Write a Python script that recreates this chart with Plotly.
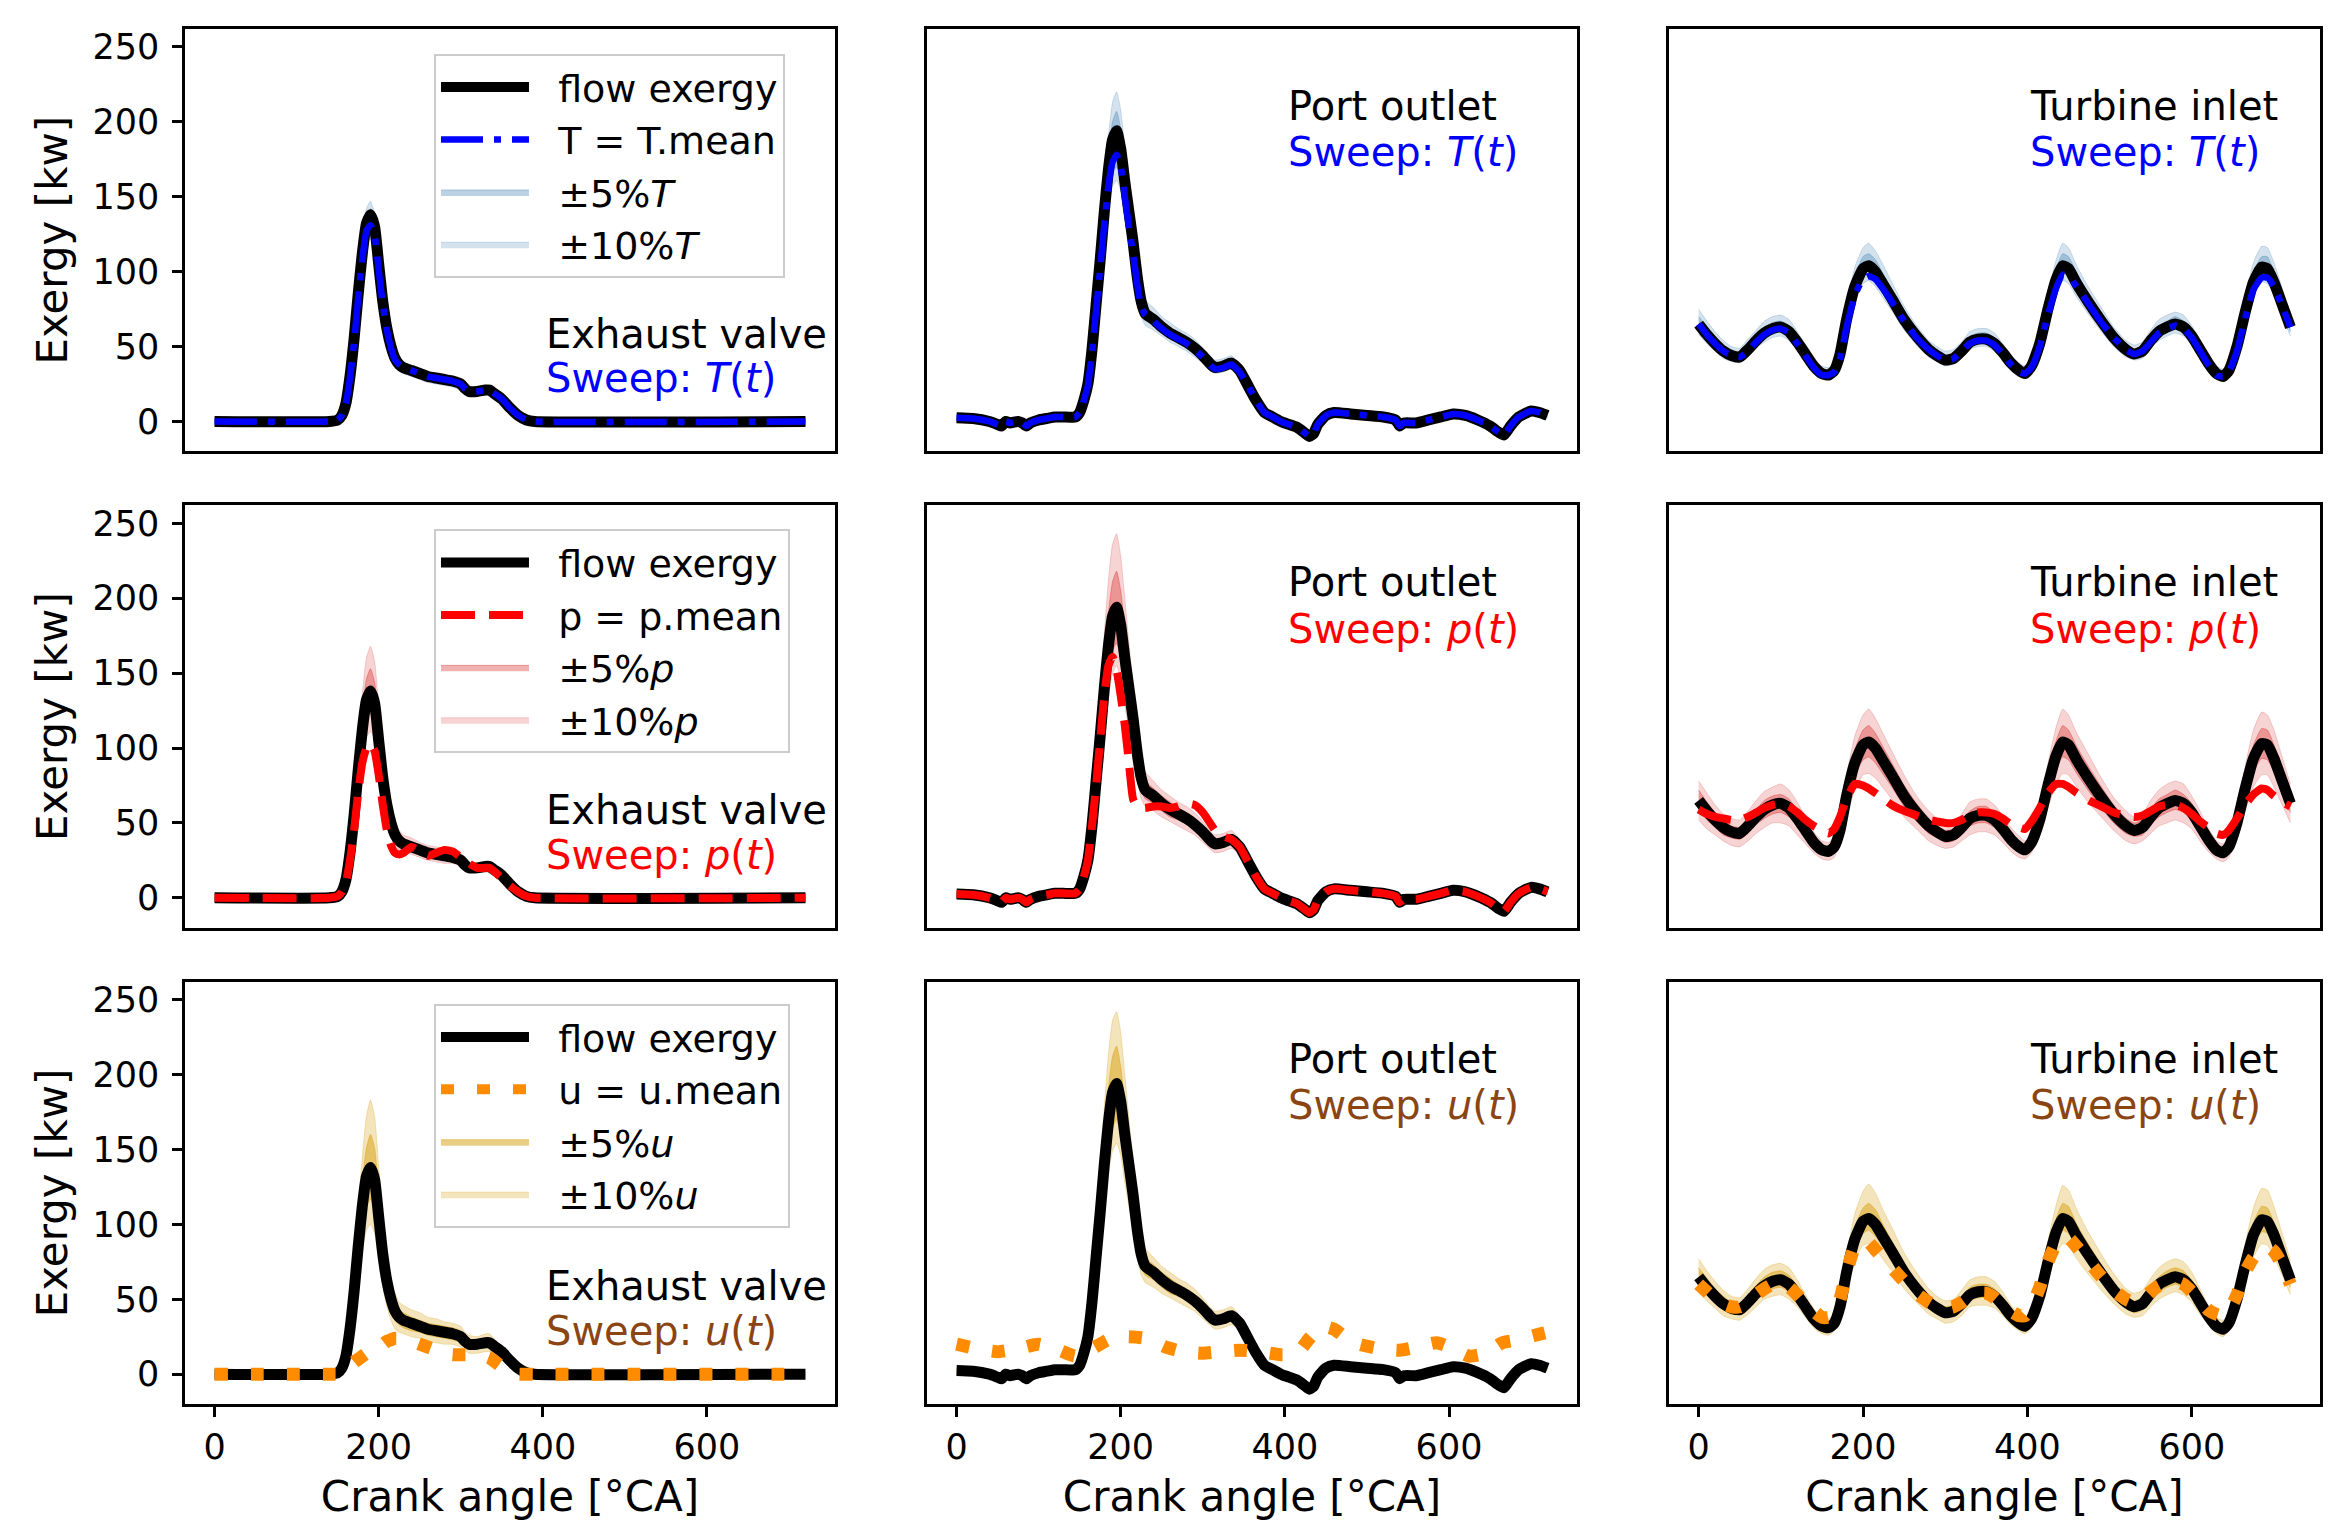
import plotly.graph_objects as go

FONT = "DejaVu Sans"

# ---------------- data ----------------
crank_ticks = [0, 200, 400, 600]
exergy_ticks = [0, 50, 100, 150, 200, 250]
locations = ["Exhaust valve", "Port outlet", "Turbine inlet"]
variables = ["T", "p", "u"]

# Exhaust valve
x_ev = [0, 140, 150, 155, 160, 165, 170, 175, 180, 185, 190, 195, 200, 205, 210, 215, 220, 225, 230, 240,
        250, 260, 270, 280, 290, 300, 305, 310, 320, 330, 335, 340, 350, 360, 370, 380, 390, 720]
ev_flow = [0, 0, 1, 4, 12, 30, 55, 85, 112, 132, 138, 130, 105, 80, 62, 50, 42, 38, 36, 34,
           32, 30, 29, 28, 27, 25, 22, 20, 20, 21, 21, 19, 15, 9, 4, 1, 0, 0]
ev_T = [0, 0, 1, 4, 12, 29, 53, 82, 108, 127, 131, 124, 101, 78, 61, 49, 41, 38, 36, 34,
        32, 30, 29, 28, 27, 25, 22, 20, 20, 21, 21, 19, 15, 9, 4, 1, 0, 0]
ev_T_hi10 = [0, 0, 1, 5, 14, 33, 60, 92, 121, 142, 147, 139, 112, 86, 66, 53, 45, 41, 39, 37,
             35, 33, 32, 31, 30, 28, 25, 23, 22, 23, 23, 21, 17, 10, 5, 1, 0, 0]
ev_T_hi5 = [0, 0, 1, 4, 13, 31, 57, 88, 116, 137, 142, 134, 108, 83, 64, 51, 43, 39, 37, 35,
            33, 31, 30, 29, 28, 26, 23, 21, 21, 22, 22, 20, 16, 9, 4, 1, 0, 0]
ev_T_lo5 = [0, 0, 1, 4, 11, 28, 52, 80, 106, 124, 128, 122, 98, 76, 59, 48, 40, 36, 34, 32,
            30, 28, 27, 26, 25, 23, 20, 19, 19, 20, 20, 18, 14, 8, 4, 1, 0, 0]
ev_T_lo10 = [0, 0, 1, 3, 10, 26, 49, 76, 101, 118, 122, 115, 93, 72, 56, 46, 38, 34, 32, 30,
             28, 26, 25, 24, 23, 21, 19, 17, 17, 18, 18, 16, 13, 7, 3, 1, 0, 0]
ev_p = [0, 0, 1, 4, 10, 25, 45, 70, 90, 100, 103, 98, 82, 62, 45, 35, 30, 29, 30, 34,
        31, 28, 30, 32, 31, 27, 25, 23, 20, 20, 20, 18, 13, 8, 4, 1, 0, 0]
ev_p_hi10 = [0, 0, 1, 5, 15, 38, 68, 104, 136, 160, 168, 158, 128, 97, 74, 60, 50, 45, 42, 40,
             37, 35, 34, 33, 32, 30, 26, 24, 23, 24, 24, 22, 17, 10, 5, 1, 0, 0]
ev_p_hi5 = [0, 0, 1, 5, 13, 34, 61, 94, 123, 146, 153, 144, 116, 88, 68, 55, 46, 41, 39, 37,
            35, 33, 31, 30, 29, 27, 24, 22, 22, 22, 22, 20, 16, 10, 4, 1, 0, 0]
ev_p_lo5 = [0, 0, 1, 4, 11, 27, 50, 77, 102, 119, 123, 117, 94, 72, 56, 45, 38, 35, 33, 31,
            29, 27, 27, 26, 25, 23, 20, 18, 18, 19, 19, 17, 14, 8, 4, 1, 0, 0]
ev_p_lo10 = [0, 0, 1, 3, 10, 24, 45, 70, 92, 107, 111, 106, 86, 66, 51, 41, 35, 32, 31, 29,
             27, 25, 24, 23, 23, 21, 18, 17, 17, 17, 17, 15, 12, 7, 3, 1, 0, 0]
ev_u = [0, 0, 0, 1, 3, 5, 8, 10, 12, 14, 16, 17, 19, 20, 22, 23, 24, 24, 24, 22,
        20, 18, 16, 14, 13, 13, 13, 13, 13, 12, 11, 9, 5, 2, 0, 0, 0, 0]
ev_u_hi10 = [0, 0, 1, 5, 16, 40, 72, 110, 145, 172, 183, 172, 139, 105, 80, 64, 54, 48, 46, 43,
             41, 38, 37, 35, 34, 32, 28, 26, 25, 27, 27, 24, 19, 12, 5, 1, 0, 0]
ev_u_hi5 = [0, 0, 1, 5, 14, 35, 63, 97, 128, 151, 160, 151, 122, 93, 71, 57, 48, 43, 41, 38,
            36, 34, 33, 32, 31, 29, 25, 23, 23, 24, 24, 21, 17, 10, 5, 1, 0, 0]
ev_u_lo5 = [0, 0, 1, 3, 10, 25, 47, 72, 95, 112, 117, 111, 89, 68, 53, 43, 36, 33, 31, 29,
            28, 26, 25, 24, 23, 21, 19, 17, 17, 18, 18, 16, 13, 8, 3, 1, 0, 0]
ev_u_lo10 = [0, 0, 1, 3, 9, 22, 40, 62, 82, 96, 100, 94, 76, 58, 45, 36, 30, 28, 27, 25,
             24, 22, 21, 20, 20, 18, 16, 14, 14, 15, 15, 14, 11, 6, 3, 1, 0, 0]

# Port outlet
x_po = [0, 20, 40, 50, 55, 60, 65, 75, 80, 85,
        90, 100, 110, 120, 130, 145, 150, 155, 160, 165,
        170, 175, 180, 185, 190, 195, 200, 205, 210, 215,
        220, 225, 230, 240, 250, 260, 270, 280, 290, 300,
        310, 315, 325, 335, 345, 355, 365, 375, 385, 395,
        405, 415, 425, 430, 435, 440, 450, 460, 480, 500,
        520, 535, 540, 545, 560, 575, 590, 605, 620, 635,
        650, 660, 667, 675, 685, 700, 710, 720]
po_flow = [2.5, 2, 0, -2, -3, 0, -1, 0, -1, -3,
           -1, 1, 2, 3, 3, 3, 6, 14, 25, 48,
           78, 108, 140, 168, 188, 194, 182, 160, 140, 120,
           97, 80, 72, 68, 63, 59, 56, 53, 49, 44,
           38, 36, 37, 39, 34, 24, 14, 6, 3, 0,
           -2, -4, -8, -10, -8, -2, 4, 6, 5, 4,
           3, 1, -3, -1, -1, 1, 3, 5, 4, 1,
           -3, -7, -9, -3, 3, 7, 6, 4]
po_T = [2.5, 2, 0, -2, -3, 0, -1, 0, -1, -3,
        -1, 1, 2, 3, 3, 3, 6, 14, 24, 46,
        74, 102, 132, 157, 173, 178, 170, 150, 130, 112,
        92, 77, 71, 67, 62, 58, 55, 52, 48, 43,
        37, 35, 36, 38, 33, 24, 14, 6, 3, 0,
        -2, -4, -8, -10, -8, -2, 4, 6, 5, 4,
        3, 1, -3, -1, -1, 1, 3, 5, 4, 1,
        -3, -7, -9, -3, 3, 7, 6, 4]
po_T_hi10 = [4.5, 4, 2, 0, -1, 2, 1, 2, 1, -1,
             1, 3, 4, 5, 5, 5, 7, 16, 28, 53,
             86, 120, 156, 190, 213, 220, 208, 183, 160, 137,
             111, 91, 81, 76, 70, 66, 62, 59, 55, 49,
             43, 41, 42, 44, 38, 27, 16, 7, 4, 1,
             0, -2, -6, -8, -6, 0, 6, 8, 7, 6,
             5, 3, -1, 1, 1, 3, 5, 7, 6, 3,
             -1, -5, -7, -1, 5, 9, 8, 6]
po_T_hi5 = [3.5, 3, 1, -1, -2, 1, 0, 1, 0, -2,
            0, 2, 3, 4, 4, 4, 6, 15, 26, 50,
            82, 114, 148, 179, 200, 207, 195, 171, 150, 128,
            104, 85, 76, 72, 66, 62, 59, 56, 52, 46,
            40, 38, 39, 41, 36, 25, 15, 6, 3, 0,
            -1, -3, -7, -9, -7, -1, 5, 7, 6, 5,
            4, 2, -2, 0, 0, 2, 4, 6, 5, 2,
            -2, -6, -8, -2, 4, 8, 7, 5]
po_T_lo5 = [1.5, 1, -1, -3, -4, -1, -2, -1, -2, -4,
            -2, 0, 1, 2, 2, 2, 5, 13, 23, 44,
            71, 98, 126, 150, 165, 170, 162, 143, 124, 107,
            88, 74, 68, 64, 60, 56, 53, 50, 46, 41,
            36, 34, 35, 37, 32, 23, 13, 5, 2, -1,
            -3, -5, -9, -11, -9, -3, 3, 5, 4, 3,
            2, 0, -4, -2, -2, 0, 2, 4, 3, 0,
            -4, -8, -10, -4, 2, 6, 5, 3]
po_T_lo10 = [0.5, 0, -2, -4, -5, -2, -3, -2, -3, -5,
             -3, -1, 0, 1, 1, 1, 4, 12, 21, 41,
             67, 93, 119, 142, 157, 161, 154, 136, 118, 101,
             83, 70, 64, 61, 57, 53, 50, 47, 43, 39,
             34, 32, 33, 35, 30, 22, 12, 5, 2, -1,
             -4, -6, -10, -12, -10, -4, 2, 4, 3, 2,
             1, -1, -5, -3, -3, -1, 1, 3, 2, -1,
             -5, -9, -11, -5, 1, 5, 4, 2]
po_p = [2.5, 2, 0, -2, -3, 0, -1, 0, -1, -3,
        -1, 1, 2, 3, 3, 3, 6, 14, 25, 48,
        75, 105, 135, 155, 161, 152, 135, 115, 90, 66,
        61, 60, 60, 61, 61, 60, 61, 63, 62, 57,
        49, 45, 41, 39, 34, 24, 14, 6, 3, 0,
        -2, -4, -8, -10, -8, -2, 4, 6, 5, 4,
        3, 1, -3, -1, -1, 1, 3, 5, 4, 1,
        -3, -7, -9, -3, 3, 7, 6, 4]
po_p_hi10 = [4.5, 4, 2, 0, -1, 2, 1, 2, 1, -1,
             1, 3, 4, 5, 5, 5, 8, 18, 32, 60,
             97, 136, 176, 212, 236, 243, 228, 200, 170, 142,
             113, 95, 84, 78, 72, 68, 64, 61, 57, 51,
             44, 42, 43, 45, 39, 28, 17, 8, 4, 1,
             0, -2, -6, -8, -6, 0, 6, 8, 7, 6,
             5, 3, -1, 1, 1, 3, 5, 7, 6, 3,
             -1, -5, -7, -1, 5, 9, 8, 6]
po_p_hi5 = [3.5, 3, 1, -1, -2, 1, 0, 1, 0, -2,
            0, 2, 3, 4, 4, 4, 7, 16, 28, 54,
            88, 122, 158, 190, 211, 218, 205, 180, 155, 131,
            105, 88, 78, 73, 68, 64, 60, 57, 53, 48,
            41, 39, 40, 42, 37, 26, 15, 7, 3, 0,
            -1, -3, -7, -9, -7, -1, 5, 7, 6, 5,
            4, 2, -2, 0, 0, 2, 4, 6, 5, 2,
            -2, -6, -8, -2, 4, 8, 7, 5]
po_p_lo5 = [1.5, 1, -1, -3, -4, -1, -2, -1, -2, -4,
            -2, 0, 1, 2, 2, 2, 5, 12, 22, 42,
            68, 94, 122, 146, 165, 170, 159, 140, 125, 109,
            89, 72, 66, 63, 58, 54, 52, 49, 45, 40,
            35, 33, 34, 36, 31, 22, 13, 5, 2, -1,
            -3, -5, -9, -11, -9, -3, 3, 5, 4, 3,
            2, 0, -4, -2, -2, 0, 2, 4, 3, 0,
            -4, -8, -10, -4, 2, 6, 5, 3]
po_p_lo10 = [0.5, 0, -2, -4, -5, -2, -3, -2, -3, -5,
             -3, -1, 0, 1, 1, 1, 4, 11, 20, 38,
             62, 86, 111, 133, 150, 155, 146, 128, 113, 98,
             81, 66, 61, 58, 54, 51, 48, 45, 42, 37,
             32, 30, 31, 33, 29, 20, 12, 4, 2, -1,
             -4, -6, -10, -12, -10, -4, 2, 4, 3, 2,
             1, -1, -5, -3, -3, -1, 1, 3, 2, -1,
             -5, -9, -11, -5, 1, 5, 4, 2]
x_po_u = [0, 25, 50, 75, 100, 125, 145, 165, 185, 205, 230, 255, 275, 300, 320, 345, 370, 395,
          415, 430, 445, 460, 475, 490, 515, 540, 560, 585, 605, 625, 645, 665, 685, 705, 720]
po_u = [20, 17, 15, 17, 20, 16, 12, 17, 23, 25, 24, 18, 15, 14, 15, 16, 15, 13,
        14, 24, 32, 30, 24, 20, 17, 16, 18, 21, 17, 12, 14, 21, 23, 26, 28]
po_u_hi10 = [4.5, 4, 2, 0, -1, 2, 1, 2, 1, -1,
             1, 3, 4, 5, 5, 5, 8, 18, 32, 60,
             97, 137, 178, 213, 236, 242, 228, 200, 171, 143,
             114, 95, 84, 78, 72, 68, 64, 61, 57, 51,
             44, 42, 43, 45, 39, 28, 17, 8, 4, 1,
             0, -2, -6, -8, -6, 0, 6, 8, 7, 6,
             5, 3, -1, 1, 1, 3, 5, 7, 6, 3,
             -1, -5, -7, -1, 5, 9, 8, 6]
po_u_hi5 = [3.5, 3, 1, -1, -2, 1, 0, 1, 0, -2,
            0, 2, 3, 4, 4, 4, 7, 16, 28, 54,
            88, 123, 159, 191, 212, 219, 205, 181, 156, 132,
            106, 88, 78, 73, 68, 64, 60, 57, 53, 48,
            41, 39, 40, 42, 37, 26, 15, 7, 3, 0,
            -1, -3, -7, -9, -7, -1, 5, 7, 6, 5,
            4, 2, -2, 0, 0, 2, 4, 6, 5, 2,
            -2, -6, -8, -2, 4, 8, 7, 5]
po_u_lo5 = [1.5, 1, -1, -3, -4, -1, -2, -1, -2, -4,
            -2, 0, 1, 2, 2, 2, 5, 12, 22, 42,
            68, 94, 122, 146, 164, 170, 159, 140, 124, 108,
            88, 72, 66, 63, 58, 54, 52, 49, 45, 40,
            35, 33, 34, 36, 31, 22, 13, 5, 2, -1,
            -3, -5, -9, -11, -9, -3, 3, 5, 4, 3,
            2, 0, -4, -2, -2, 0, 2, 4, 3, 0,
            -4, -8, -10, -4, 2, 6, 5, 3]
po_u_lo10 = [0.5, 0, -2, -4, -5, -2, -3, -2, -3, -5,
             -3, -1, 0, 1, 1, 1, 4, 11, 20, 38,
             62, 86, 111, 133, 149, 154, 146, 128, 112, 97,
             80, 66, 61, 58, 54, 51, 48, 45, 42, 37,
             32, 30, 31, 33, 29, 20, 12, 4, 2, -1,
             -4, -6, -10, -12, -10, -4, 2, 4, 3, 2,
             1, -1, -5, -3, -3, -1, 1, 3, 2, -1,
             -5, -9, -11, -5, 1, 5, 4, 2]

# Turbine inlet
x_ti = [0, 10, 20, 30, 40, 50, 60, 70, 80, 90,
        100, 110, 120, 130, 140, 150, 158, 165, 172, 180,
        190, 200, 207, 215, 225, 235, 250, 265, 280, 290,
        300, 310, 320, 330, 340, 350, 360, 370, 380, 390,
        397, 405, 415, 425, 435, 443, 450, 460, 475, 490,
        505, 520, 530, 540, 550, 560, 570, 580, 590, 600,
        610, 620, 630, 638, 645, 655, 665, 675, 685, 692,
        700, 710, 720]
ti_flow = [65, 58, 52, 47, 44, 43, 48, 54, 59, 62,
           63, 60, 53, 45, 37, 32, 31, 34, 45, 68,
           90, 102, 104, 100, 91, 82, 68, 57, 48, 44,
           41, 42, 47, 53, 55, 55, 52, 46, 39, 34,
           32, 37, 52, 75, 95, 104, 102, 92, 79, 67,
           56, 48, 45, 47, 54, 60, 63, 65, 63, 57,
           48, 39, 32, 30, 34, 50, 73, 93, 103, 102,
           93, 78, 63]
ti_T = [65, 58, 52, 47, 44, 43, 47, 53, 58, 61,
        62, 59, 52, 44, 36, 31, 31, 33, 42, 63,
        84, 95, 97, 95, 88, 80, 67, 56, 48, 44,
        41, 42, 47, 52, 54, 54, 51, 45, 38, 33,
        32, 36, 50, 71, 89, 98, 97, 90, 78, 66,
        56, 48, 45, 47, 53, 59, 62, 64, 62, 56,
        47, 38, 31, 30, 33, 47, 69, 88, 96, 96,
        90, 77, 63]
ti_T_hi10 = [75, 67, 60, 54, 50, 49, 55, 61, 67, 70,
             71, 68, 60, 51, 42, 37, 36, 39, 51, 77,
             103, 116, 119, 114, 104, 93, 77, 64, 54, 50,
             47, 48, 53, 60, 62, 62, 59, 52, 44, 39,
             37, 42, 59, 85, 108, 119, 116, 104, 89, 76,
             63, 54, 51, 53, 61, 68, 71, 73, 71, 64,
             54, 44, 37, 35, 39, 57, 83, 106, 117, 116,
             106, 89, 72]
ti_T_hi5 = [70, 63, 56, 51, 47, 46, 52, 58, 63, 66,
            67, 64, 57, 48, 40, 34, 33, 37, 48, 73,
            97, 110, 112, 108, 98, 88, 73, 61, 51, 47,
            44, 45, 50, 57, 59, 59, 56, 49, 42, 37,
            35, 40, 56, 80, 102, 112, 110, 99, 85, 72,
            60, 51, 48, 50, 58, 64, 67, 70, 67, 61,
            51, 42, 35, 33, 37, 54, 78, 100, 110, 110,
            100, 84, 68]
ti_T_lo5 = [62, 55, 49, 45, 42, 41, 46, 51, 56, 59,
            60, 57, 50, 43, 35, 30, 29, 32, 43, 65,
            86, 97, 99, 95, 86, 78, 65, 54, 46, 42,
            39, 40, 45, 50, 52, 52, 49, 44, 37, 32,
            30, 35, 49, 71, 90, 99, 97, 87, 75, 64,
            53, 46, 43, 45, 51, 57, 60, 62, 60, 54,
            46, 37, 30, 29, 32, 48, 69, 88, 98, 97,
            88, 74, 60]
ti_T_lo10 = [58, 52, 47, 42, 40, 39, 43, 49, 53, 56,
             57, 54, 48, 40, 33, 29, 28, 31, 40, 61,
             81, 92, 94, 90, 82, 74, 61, 51, 43, 40,
             37, 38, 42, 48, 50, 50, 47, 41, 35, 31,
             29, 33, 47, 68, 86, 94, 92, 83, 71, 60,
             50, 43, 41, 42, 49, 54, 57, 59, 57, 51,
             43, 35, 29, 27, 31, 45, 66, 84, 93, 92,
             84, 70, 57]
ti_p = [59, 56, 54, 53, 52, 52, 54, 57, 60, 62,
        63, 61, 57, 52, 48, 45, 43, 46, 54, 66,
        76, 75, 73, 70, 66, 62, 58, 55, 52, 51,
        50, 50, 52, 55, 57, 57, 56, 53, 49, 47,
        46, 51, 60, 70, 76, 76, 74, 70, 65, 61,
        57, 55, 54, 55, 58, 61, 62, 62, 60, 56,
        51, 47, 43, 42, 45, 53, 62, 69, 73, 72,
        68, 64, 61]
ti_p_hi10 = [78, 70, 62, 56, 53, 52, 58, 65, 71, 74,
             76, 72, 64, 54, 44, 38, 37, 41, 54, 82,
             108, 122, 126, 120, 109, 98, 82, 68, 58, 53,
             49, 50, 56, 64, 66, 66, 62, 55, 47, 41,
             38, 44, 62, 90, 114, 126, 122, 110, 95, 80,
             67, 58, 54, 56, 65, 72, 76, 78, 76, 68,
             58, 47, 38, 36, 41, 60, 88, 112, 124, 122,
             112, 94, 76]
ti_p_hi5 = [72, 64, 57, 52, 48, 47, 53, 59, 65, 68,
            69, 66, 58, 50, 41, 35, 34, 37, 50, 75,
            99, 112, 115, 110, 100, 90, 75, 63, 53, 48,
            45, 46, 52, 58, 61, 61, 57, 51, 43, 37,
            35, 41, 57, 83, 105, 115, 112, 101, 87, 74,
            62, 53, 50, 52, 59, 66, 69, 72, 69, 63,
            53, 43, 35, 33, 37, 55, 80, 102, 113, 112,
            102, 86, 69]
ti_p_lo5 = [58, 52, 47, 42, 40, 39, 43, 49, 53, 56,
            57, 54, 48, 40, 33, 29, 28, 31, 40, 61,
            81, 92, 94, 90, 82, 74, 61, 51, 43, 40,
            37, 38, 42, 48, 50, 50, 47, 41, 35, 31,
            29, 33, 47, 68, 86, 94, 92, 83, 71, 60,
            50, 43, 41, 42, 49, 54, 57, 59, 57, 51,
            43, 35, 29, 27, 31, 45, 66, 84, 93, 92,
            84, 70, 57]
ti_p_lo10 = [52, 46, 42, 38, 35, 34, 38, 43, 47, 50,
             50, 48, 42, 36, 30, 26, 25, 27, 36, 54,
             72, 82, 83, 80, 73, 66, 54, 46, 38, 35,
             33, 34, 38, 42, 44, 44, 42, 37, 31, 27,
             26, 30, 42, 60, 76, 83, 82, 74, 63, 54,
             45, 38, 36, 38, 43, 48, 50, 52, 50, 46,
             38, 31, 26, 24, 27, 40, 58, 74, 82, 82,
             74, 62, 50]
ti_u = [60, 55, 50, 47, 45, 45, 48, 53, 57, 60,
        61, 58, 53, 47, 42, 38, 38, 41, 50, 68,
        85, 89, 88, 83, 77, 71, 62, 54, 48, 45,
        44, 45, 48, 52, 54, 54, 51, 46, 42, 39,
        39, 45, 58, 75, 87, 91, 91, 85, 75, 65,
        56, 50, 48, 50, 55, 59, 61, 62, 60, 55,
        49, 43, 40, 39, 42, 53, 68, 78, 84, 85,
        82, 73, 60]
ti_u_hi10 = [77, 69, 62, 56, 52, 51, 57, 64, 70, 73,
             74, 71, 63, 53, 44, 38, 37, 40, 53, 80,
             107, 122, 127, 121, 109, 98, 81, 68, 57, 52,
             49, 50, 56, 63, 65, 65, 62, 55, 46, 40,
             38, 44, 62, 89, 113, 126, 123, 110, 94, 80,
             67, 57, 54, 56, 64, 71, 75, 77, 75, 68,
             57, 46, 38, 36, 40, 59, 87, 111, 124, 123,
             112, 94, 76]
ti_u_hi5 = [71, 64, 57, 52, 48, 47, 53, 59, 65, 68,
            69, 66, 58, 49, 41, 35, 34, 37, 49, 74,
            98, 111, 114, 110, 99, 89, 74, 62, 52, 48,
            45, 46, 51, 58, 60, 60, 57, 50, 43, 37,
            35, 40, 57, 82, 104, 114, 112, 100, 86, 73,
            61, 52, 49, 51, 59, 65, 69, 71, 69, 62,
            52, 43, 35, 33, 37, 54, 80, 101, 112, 111,
            101, 85, 69]
ti_u_lo5 = [60, 53, 48, 43, 40, 40, 44, 50, 54, 57,
            58, 55, 49, 41, 34, 29, 29, 31, 41, 63,
            83, 94, 96, 92, 84, 75, 63, 52, 44, 40,
            38, 39, 43, 49, 51, 51, 48, 42, 36, 31,
            29, 34, 48, 69, 87, 96, 94, 85, 73, 62,
            52, 44, 41, 43, 50, 55, 58, 60, 58, 52,
            44, 36, 29, 28, 31, 46, 67, 86, 95, 94,
            86, 72, 58]
ti_u_lo10 = [55, 49, 44, 39, 37, 36, 40, 45, 50, 52,
             53, 50, 45, 38, 31, 27, 26, 29, 38, 57,
             76, 86, 87, 84, 76, 69, 57, 48, 40, 37,
             34, 35, 39, 45, 46, 46, 44, 39, 33, 29,
             27, 31, 44, 63, 80, 87, 86, 77, 66, 56,
             47, 40, 38, 39, 45, 50, 53, 55, 53, 48,
             40, 33, 27, 25, 29, 42, 61, 78, 87, 86,
             78, 66, 53]

# ---------------- styles ----------------
var_style = {
    "T": dict(color="#0000ff", dash="42px,11px,7px,11px", width=6.5,
              c5="rgba(70,130,180,0.36)", c10="rgba(70,130,180,0.23)", text="#0000ff"),
    "p": dict(color="#ff0000", dash="34px,14px", width=8,
              c5="rgba(214,39,40,0.36)", c10="rgba(214,39,40,0.2)", text="#ff0000"),
    "u": dict(color="#ff8c00", dash="13px,23px", width=13,
              c5="rgba(218,165,32,0.55)", c10="rgba(218,165,32,0.3)", text="#8b4513"),
}

panels = {
    (0, 0): (x_ev, ev_flow, x_ev, ev_T, ev_T_lo10, ev_T_hi10, ev_T_lo5, ev_T_hi5),
    (0, 1): (x_po, po_flow, x_po, po_T, po_T_lo10, po_T_hi10, po_T_lo5, po_T_hi5),
    (0, 2): (x_ti, ti_flow, x_ti, ti_T, ti_T_lo10, ti_T_hi10, ti_T_lo5, ti_T_hi5),
    (1, 0): (x_ev, ev_flow, x_ev, ev_p, ev_p_lo10, ev_p_hi10, ev_p_lo5, ev_p_hi5),
    (1, 1): (x_po, po_flow, x_po, po_p, po_p_lo10, po_p_hi10, po_p_lo5, po_p_hi5),
    (1, 2): (x_ti, ti_flow, x_ti, ti_p, ti_p_lo10, ti_p_hi10, ti_p_lo5, ti_p_hi5),
    (2, 0): (x_ev, ev_flow, x_ev, ev_u, ev_u_lo10, ev_u_hi10, ev_u_lo5, ev_u_hi5),
    (2, 1): (x_po, po_flow, x_po_u, po_u, po_u_lo10, po_u_hi10, po_u_lo5, po_u_hi5),
    (2, 2): (x_ti, ti_flow, x_ti, ti_u, ti_u_lo10, ti_u_hi10, ti_u_lo5, ti_u_hi5),
}

W, H = 2329, 1521
col_domains = [[0.0760, 0.3551], [0.3946, 0.6737], [0.7132, 0.9927]]
row_domains = [[0.7094, 0.9875], [0.3958, 0.6739], [0.0822, 0.3603]]
legend_tops = [0.9711, 0.6581, 0.3458]
legend_names = ["legend", "legend2", "legend3"]
GAP = "\u00a0\u00a0"

fig = go.Figure()
annotations = []
layout = {}

for (r, c), (xf, flow, xm, mean, lo10, hi10, lo5, hi5) in panels.items():
    i = r * 3 + c + 1
    xa = "x" if i == 1 else f"x{i}"
    ya = "y" if i == 1 else f"y{i}"
    v = variables[r]
    st = var_style[v]
    leg = legend_names[r]
    show = c == 0
    common = dict(xaxis=xa, yaxis=ya, legend=leg, hoverinfo="skip",
                  line_shape="spline", line_smoothing=0.5)
    fig.add_trace(go.Scatter(x=xf, y=lo10, mode="lines", showlegend=False,
                             line=dict(color=st["c10"], width=1), **common))
    fig.add_trace(go.Scatter(x=xf, y=hi10, mode="lines", fill="tonexty", fillcolor=st["c10"],
                             line=dict(color=st["c10"], width=1), name=f"{GAP}±10%<i>{v}</i>",
                             showlegend=show, legendrank=4, **common))
    fig.add_trace(go.Scatter(x=xf, y=lo5, mode="lines", showlegend=False,
                             line=dict(color=st["c5"], width=1), **common))
    fig.add_trace(go.Scatter(x=xf, y=hi5, mode="lines", fill="tonexty", fillcolor=st["c5"],
                             line=dict(color=st["c5"], width=1), name=f"{GAP}±5%<i>{v}</i>",
                             showlegend=show, legendrank=3, **common))
    fig.add_trace(go.Scatter(x=xf, y=flow, mode="lines", name=f"{GAP}flow exergy",
                             line=dict(color="black", width=11),
                             showlegend=show, legendrank=1, **common))
    fig.add_trace(go.Scatter(x=xm, y=mean, mode="lines", name=f"{GAP}{v} = {v}.mean",
                             line=dict(color=st["color"], width=st["width"], dash=st["dash"]),
                             showlegend=show, legendrank=2, **common))

    layout["xaxis" if i == 1 else f"xaxis{i}"] = dict(
        domain=col_domains[c], anchor=ya, range=[-36, 756], tickvals=crank_ticks,
        showticklabels=(r == 2), ticks="outside" if r == 2 else "", ticklen=10, tickwidth=2.5,
        tickcolor="black", tickfont=dict(family=FONT, size=35, color="black"),
        ticklabelstandoff=0,
        showline=True, mirror=True, linecolor="black", linewidth=2.5,
        showgrid=False, zeroline=False,
        title=dict(text="Crank angle [°CA]", font=dict(family=FONT, size=42, color="black"),
                   standoff=16) if r == 2 else None,
    )
    layout["yaxis" if i == 1 else f"yaxis{i}"] = dict(
        domain=row_domains[r], anchor=xa, range=[-20, 262], tickvals=exergy_ticks,
        showticklabels=(c == 0), ticks="outside" if c == 0 else "", ticklen=10, tickwidth=2.5,
        tickcolor="black", tickfont=dict(family=FONT, size=35, color="black"),
        ticklabelstandoff=6,
        showline=True, mirror=True, linecolor="black", linewidth=2.5,
        showgrid=False, zeroline=False,
        title=dict(text="Exergy [kw]", font=dict(family=FONT, size=42, color="black"),
                   standoff=12) if c == 0 else None,
    )

    y1, y2 = (0.279, 0.173) if c == 0 else (0.818, 0.708)
    annotations.append(dict(text=locations[c], xref=f"{xa} domain", yref=f"{ya} domain",
                            x=0.552, y=y1, xanchor="left", yanchor="middle", showarrow=False,
                            font=dict(family=FONT, size=40, color="black")))
    annotations.append(dict(text=f"Sweep: <i>{v}</i>(<i>t</i>)", xref=f"{xa} domain",
                            yref=f"{ya} domain", x=0.552, y=y2, xanchor="left",
                            yanchor="middle", showarrow=False,
                            font=dict(family=FONT, size=40, color=st["text"])))

for k, name in enumerate(legend_names):
    layout[name] = dict(x=0.1829, y=legend_tops[k], xanchor="left", yanchor="top",
                        bgcolor="rgba(255,255,255,0.8)", bordercolor="#cccccc", borderwidth=2,
                        font=dict(family=FONT, size=38, color="black"), itemwidth=88,
                        traceorder="normal")

fig.update_layout(
    width=W, height=H, margin=dict(l=0, r=0, t=0, b=0),
    paper_bgcolor="white", plot_bgcolor="white",
    font=dict(family=FONT, color="black"),
    annotations=annotations, **layout,
)

fig.write_html("out.html")
